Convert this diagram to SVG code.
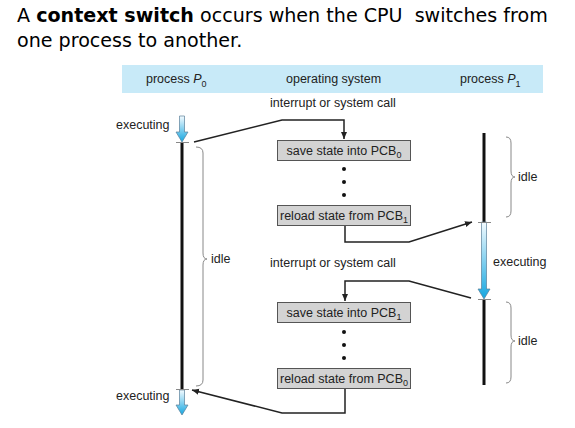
<svg xmlns="http://www.w3.org/2000/svg" width="575" height="428" viewBox="0 0 575 428">
<style>
.t{font-family:"DejaVu Sans",Verdana,sans-serif;font-size:19.1px;fill:#000;white-space:pre}
.l{font-family:"Liberation Sans",Arial,sans-serif;font-size:12.5px;fill:#222}
.c{text-anchor:middle}
.box{fill:#d3d3d3;stroke:#555;stroke-width:1}
.conn{fill:none;stroke:#222;stroke-width:1.5}
.brace{fill:none;stroke:#888;stroke-width:1}
.life{stroke:#111;stroke-width:3}
.tick{stroke:#888;stroke-width:1}
.exe{fill:url(#g);stroke:#5a7f99;stroke-width:0.7}
</style>
<defs>
<linearGradient id="g" x1="0" y1="0" x2="0" y2="1">
<stop offset="0" stop-color="#f4fbff"/>
<stop offset="1" stop-color="#14a6e0"/>
</linearGradient>
<marker id="ah" markerWidth="8" markerHeight="8" refX="7" refY="4" orient="auto" markerUnits="userSpaceOnUse">
<path d="M0,1 L7,4 L0,7 Z" fill="#222"/>
</marker>
</defs>
<rect width="575" height="428" fill="#fff"/>
<text class="t" x="17" y="22">A <tspan font-weight="bold">context switch</tspan> occurs when the CPU  switches from</text>
<text class="t" x="17" y="47">one process to another.</text>

<g id="header">
<rect x="122" y="65" width="421" height="28" fill="#c8eaf8"/>
<text class="l" x="146" y="83">process <tspan font-style="italic">P</tspan><tspan font-size="9" dy="3.5">0</tspan></text>
<text class="l" x="286" y="83">operating system</text>
<text class="l" x="460" y="83">process <tspan font-style="italic">P</tspan><tspan font-size="9" dy="3.5">1</tspan></text>
</g>

<g id="p0">
<line class="life" x1="182" y1="142" x2="182" y2="389"/>
<path class="exe" d="M179.5,116 H184.5 V132 H188 L182,142 L176,132 H179.5 Z"/>
<line class="tick" x1="176" y1="142.5" x2="189" y2="142.5"/>
<path class="exe" d="M179.5,390 H184.5 V405 H188 L182,415 L176,405 H179.5 Z"/>
<line class="tick" x1="176" y1="389.5" x2="189" y2="389.5"/>
<text class="l" x="116" y="129">executing</text>
<text class="l" x="116" y="400">executing</text>
<path class="brace" d="M196,147 Q203,147 203,153 L203,253 Q203,259 207,259 Q203,259 203,265 L203,380 Q203,386 196,386"/>
<text class="l" x="211" y="263">idle</text>
</g>

<g id="p1">
<line class="life" x1="484" y1="133" x2="484" y2="222"/>
<line class="life" x1="484" y1="299" x2="484" y2="385"/>
<path class="exe" d="M481.5,222 H486.5 V289 H490 L484,299 L478,289 H481.5 Z"/>
<line class="tick" x1="478" y1="222.5" x2="491" y2="222.5"/>
<line class="tick" x1="478" y1="299.5" x2="491" y2="299.5"/>
<text class="l" x="493" y="266">executing</text>
<path class="brace" d="M506,137 Q511,137 511,143 L511,171 Q511,177 515,177 Q511,177 511,183 L511,211 Q511,217 506,217"/>
<text class="l" x="518" y="181">idle</text>
<path class="brace" d="M506,302 Q511,302 511,308 L511,335 Q511,341 515,341 Q511,341 511,347 L511,377 Q511,383 506,383"/>
<text class="l" x="518" y="345">idle</text>
</g>

<g id="os">
<text class="l" x="270" y="107">interrupt or system call</text>
<text class="l" x="270" y="267">interrupt or system call</text>
<g id="save0">
<rect class="box" x="277.5" y="140.5" width="133" height="20"/>
<text class="l c" x="344" y="155">save state into PCB<tspan font-size="9" dy="3">0</tspan></text>
</g>
<g id="reload1">
<rect class="box" x="277.5" y="205.5" width="133" height="20"/>
<text class="l c" x="344" y="220">reload state from PCB<tspan font-size="9" dy="3">1</tspan></text>
</g>
<g id="save1">
<rect class="box" x="277.5" y="302.5" width="133" height="20"/>
<text class="l c" x="344" y="317">save state into PCB<tspan font-size="9" dy="3">1</tspan></text>
</g>
<g id="reload0">
<rect class="box" x="277.5" y="368.5" width="133" height="20"/>
<text class="l c" x="344" y="383">reload state from PCB<tspan font-size="9" dy="3">0</tspan></text>
</g>
<g fill="#111">
<circle cx="344" cy="169" r="2"/><circle cx="344" cy="182" r="2"/><circle cx="344" cy="195" r="2"/>
<circle cx="344" cy="332" r="2"/><circle cx="344" cy="345" r="2"/><circle cx="344" cy="358" r="2"/>
</g>
</g>

<g id="connectors">
<polyline class="conn" points="194,142 282,120 344,120 344,139" marker-end="url(#ah)"/>
<polyline class="conn" points="345,226 345,242 409,242 472,222" marker-end="url(#ah)"/>
<polyline class="conn" points="471,298 409,281 345,281 345,301" marker-end="url(#ah)"/>
<polyline class="conn" points="345,389 345,413 282,413 192,390" marker-end="url(#ah)"/>
</g>
</svg>
